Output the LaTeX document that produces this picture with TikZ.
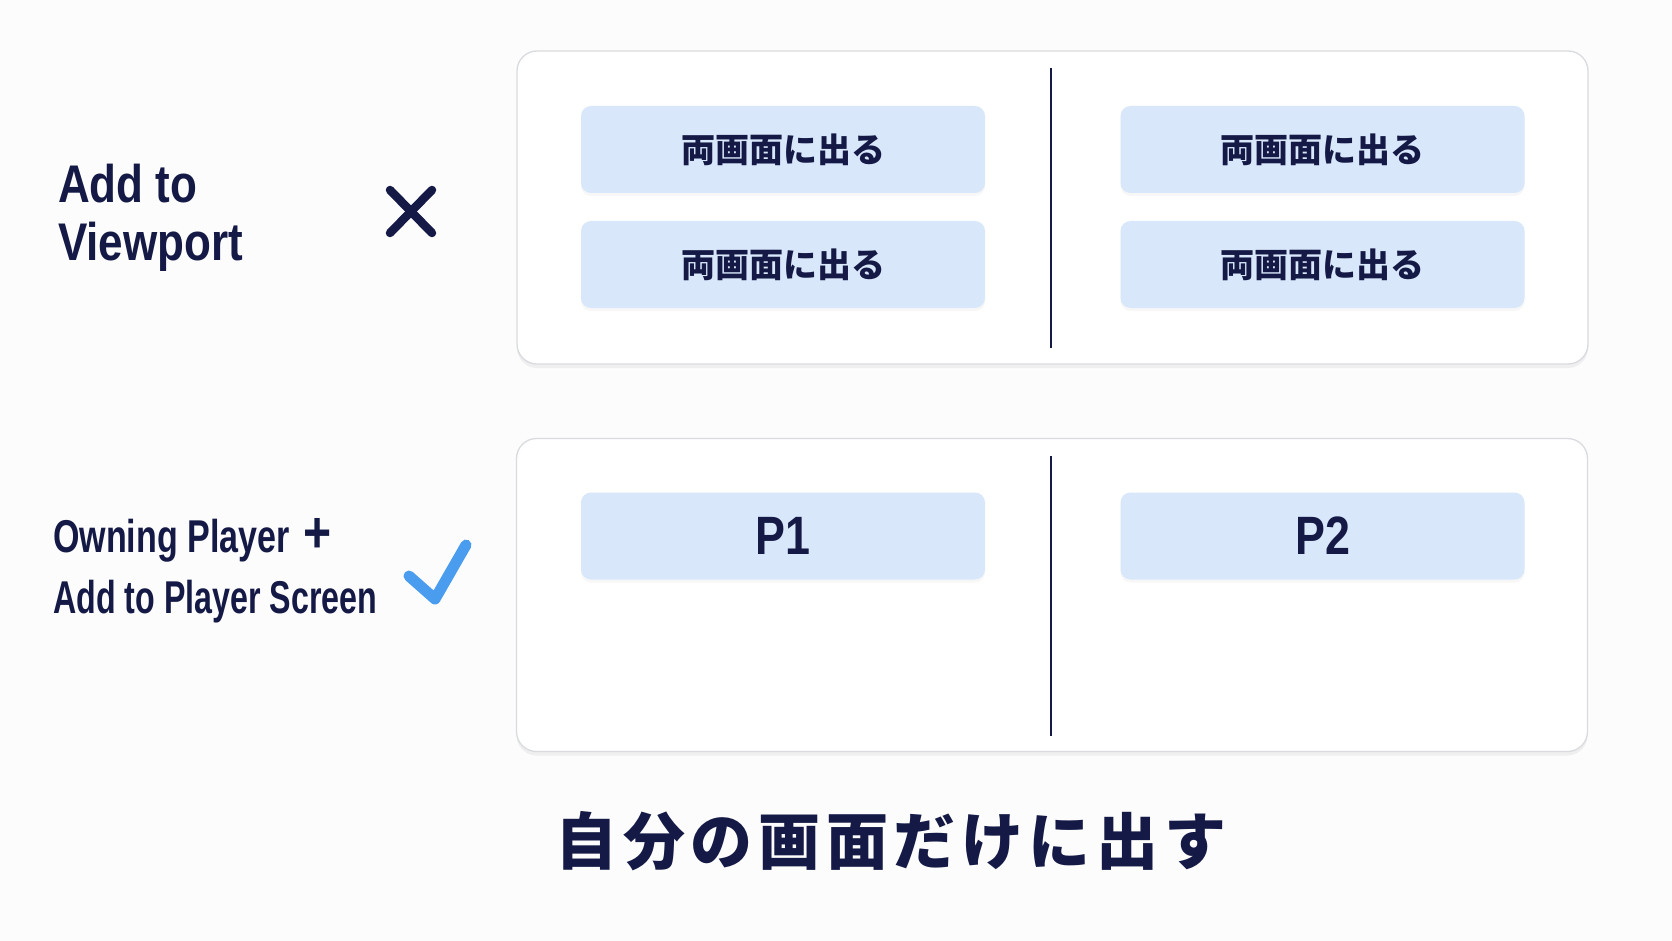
\documentclass[tikz,border=0pt]{standalone}
\usepackage{fontspec}
\usetikzlibrary{shadows}
\newfontfamily\jpfont{Noto Sans CJK JP}
\newfontfamily\titlejp[LetterSpace=9]{Noto Sans CJK JP}
\newfontfamily\condA[FakeStretch=0.83]{Liberation Sans}
\newfontfamily\condB[FakeStretch=0.70]{Liberation Sans}
\newfontfamily\condC[FakeStretch=0.74]{Liberation Sans}
\definecolor{navy}{HTML}{141A45}
\definecolor{bgc}{HTML}{FCFCFD}
\definecolor{panelline}{HTML}{DADBDE}
\definecolor{tileblue}{HTML}{D9E7FB}
\definecolor{checkblue}{HTML}{4A9DEE}
\tikzset{
  panel/.style={draw=panelline, line width=1.3pt, fill=white, rounded corners=20pt,
    drop shadow={opacity=0.10, shadow xshift=0pt, shadow yshift=-4pt},
    minimum width=1071pt, minimum height=313pt, inner sep=0pt},
  tile/.style={fill=tileblue, rounded corners=10pt, minimum width=404pt, minimum height=87pt,
    inner sep=0pt, text=navy,
    drop shadow={opacity=0.06, shadow xshift=0pt, shadow yshift=-3pt}},
  jptext/.style={font=\jpfont\bfseries\fontsize{34}{34}\selectfont},
  ptext/.style={font=\condA\bfseries\fontsize{54}{54}\selectfont},
  divider/.style={draw=navy, line width=2.6pt},
  lbl/.style={anchor=base west, inner sep=0pt, text=navy},
  lblA/.style={lbl, font=\condA\bfseries\fontsize{53}{53}\selectfont},
  lblB/.style={lbl, font=\condB\bfseries\fontsize{46}{46}\selectfont},
  lblC/.style={lbl, font=\condC\bfseries\fontsize{46}{46}\selectfont},
  xmark/.style={draw=navy, line width=8.5pt, line cap=round},
  checkmark/.style={draw=checkblue, line width=11pt, line cap=round, line join=round},
}
\begin{document}
\begin{tikzpicture}[x=1pt,y=-1pt]
  \fill[bgc] (0,0) rectangle (1672,941);
  \useasboundingbox (0,0) rectangle (1672,941);

  % top panel
  \node[panel] (top) at (1052.5,207.5) {};
  \coordinate (ta) at (1051,68);
  \coordinate (tb) at (1051,348);
  \draw[divider] (ta) -- (tb);
  \node[tile, jptext] (t11) at (783,149.5) {両画面に出る};
  \node[tile, jptext] (t12) at (783,264.5) {両画面に出る};
  \node[tile, jptext] (t21) at (1322.5,149.5) {両画面に出る};
  \node[tile, jptext] (t22) at (1322.5,264.5) {両画面に出る};

  % bottom panel
  \node[panel] (bot) at (1052,595) {};
  \coordinate (ba) at (1051,456);
  \coordinate (bb) at (1051,736);
  \draw[divider] (ba) -- (bb);
  \node[tile, ptext] (p1) at (783,536) {P1\hspace{6pt}};
  \node[tile, ptext] (p2) at (1322.5,536) {P2\hspace{8pt}};

  % left labels
  \node[lblA] (l1a) at (58,203) {Add to};
  \node[lblA] (l1b) at (58,261) {Viewport};
  \node[lblC] (l2a) at (53,552) {Owning Player\hspace{14pt}{\condA\fontsize{58}{58}\selectfont +}};
  \node[lblB] (l2b) at (53,613) {Add to Player Screen};

  % marks
  \draw[xmark] (390,190) -- (432,233);
  \draw[xmark] (432,190) -- (390,233);
  \draw[checkmark] (409,576) -- (435,599) -- (466,545);

  % caption
  \node[text=navy, inner sep=0pt, font=\titlejp\bfseries\fontsize{62}{62}\selectfont] (cap) at (891,841) {自分の画面だけに出す};
\end{tikzpicture}
\end{document}
